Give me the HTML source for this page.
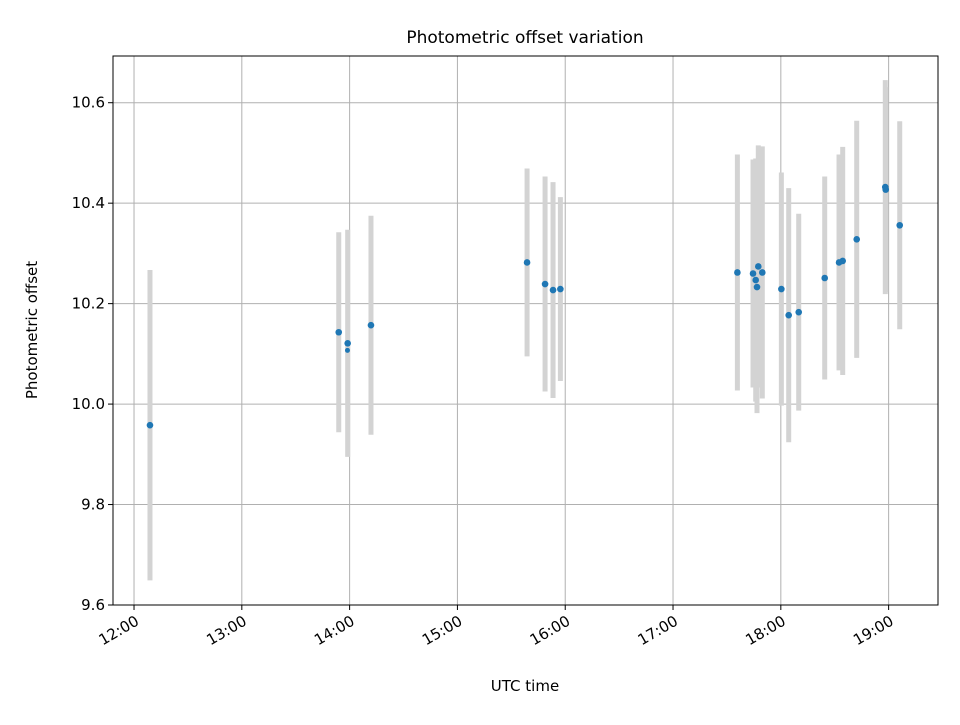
<!DOCTYPE html>
<html><head><meta charset="utf-8"><style>
body{margin:0;background:#fff;}
svg text{font-family:"DejaVu Sans","Liberation Sans",sans-serif;fill:#000;}
</style></head><body>
<svg id="chart" width="960" height="720" xmlns="http://www.w3.org/2000/svg">
<rect x="0" y="0" width="960" height="720" fill="#fff"/>
<g id="grid"></g>
<g id="errs"></g>
<g id="pts"></g>
<rect x="113" y="56" width="825" height="549" fill="none" stroke="#000" stroke-width="1"/>
<g id="axes"></g>
<text x="525" y="43" text-anchor="middle" font-size="17">Photometric offset variation</text>
<text x="525" y="691" text-anchor="middle" font-size="15">UTC time</text>
<text x="37" y="330" text-anchor="middle" font-size="15" transform="rotate(-90 37 330)">Photometric offset</text>
</svg>
<script>
const times=[12.148,13.899,13.982,13.98,14.198,15.646,15.813,15.887,15.955,17.597,17.742,17.767,17.779,17.791,17.828,18.005,18.073,18.166,18.407,18.540,18.574,18.704,18.969,18.973,19.103];
const values=[9.958,10.143,10.121,10.107,10.157,10.282,10.239,10.227,10.229,10.262,10.260,10.247,10.233,10.274,10.262,10.229,10.177,10.183,10.251,10.282,10.285,10.328,10.432,10.427,10.356];
const errors=[0.309,0.199,0.226,0,0.218,0.187,0.214,0.215,0.183,0.235,0.227,0.242,0.251,0.241,0.251,0.232,0.253,0.196,0.202,0.215,0.227,0.236,0.213,0.204,0.207];
const xTicks=[12,13,14,15,16,17,18,19];
const xTickLabels=["12:00","13:00","14:00","15:00","16:00","17:00","18:00","19:00"];
const yTicks=[9.6,9.8,10.0,10.2,10.4,10.6];
const yTickLabels=["9.6","9.8","10.0","10.2","10.4","10.6"];
const X0=113,X1=938,Y0=56,Y1=605,xmin=11.805,xmax=19.458,ymin=9.6,ymax=10.693;
function sx(t){return X0+(t-xmin)/(xmax-xmin)*(X1-X0);}
function sy(v){return Y1-(v-ymin)/(ymax-ymin)*(Y1-Y0);}
const NS="http://www.w3.org/2000/svg";
function mk(tag,attrs,parent){const e=document.createElementNS(NS,tag);for(const k in attrs)e.setAttribute(k,attrs[k]);document.getElementById(parent).appendChild(e);return e;}
xTicks.forEach((t,i)=>{
  const x=sx(t);
  const g=mk('line',{x1:x,x2:x,y1:Y0,y2:Y1,stroke:'#b0b0b0','stroke-width':1},'grid');
  
  
  const tk=mk('line',{x1:x,x2:x,y1:Y1,y2:Y1+5,stroke:'#000','stroke-width':1},'axes');
  
  
  const tx=mk('text',{x:x+6,y:Y1+19,'text-anchor':'end','font-size':15,transform:`rotate(-30 ${x+6} ${Y1+19})`},'axes');
  tx.textContent=xTickLabels[i];
  
  
});
yTicks.forEach((v,i)=>{
  const y=sy(v);
  const g=mk('line',{x1:X0,x2:X1,y1:y,y2:y,stroke:'#b0b0b0','stroke-width':1},'grid');
  
  
  const tk=mk('line',{x1:X0-5,x2:X0,y1:y,y2:y,stroke:'#000','stroke-width':1},'axes');
  
  
  const tx=mk('text',{x:X0-8,y:y+5,'text-anchor':'end','font-size':15},'axes');
  tx.textContent=yTickLabels[i];
  
  
});
times.forEach((t,i)=>{
  const x=sx(t);
  if(errors[i]>0){
    const e=mk('line',{x1:x,x2:x,y1:sy(values[i]+errors[i]),y2:sy(values[i]-errors[i]),stroke:'#d3d3d3','stroke-width':5},'errs');
    
    
  }
  const c=mk('circle',{cx:x,cy:sy(values[i]),r:errors[i]>0?3.3:2.5,fill:'#1f77b4'},'pts');
  
  
});
</script>
</body></html>
